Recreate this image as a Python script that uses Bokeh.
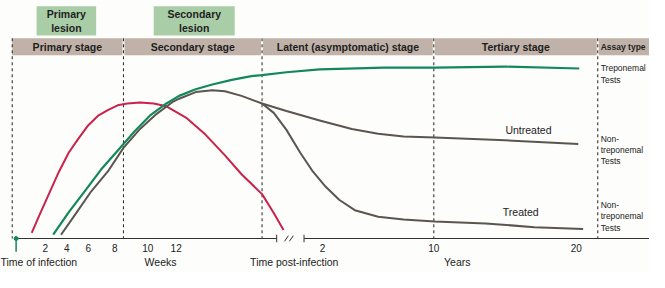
from bokeh.plotting import figure
from bokeh.models import Range1d
from bokeh.core.properties import value
from bokeh.embed import file_html
from bokeh.resources import INLINE

# ---- schematic coordinates: x = position along the time axis, y = level above baseline ----
stage_names = ["Primary stage", "Secondary stage", "Latent (asymptomatic) stage", "Tertiary stage"]
stage_left = [12, 127, 269, 445]
stage_right = [125, 267, 443, 611]
stage_bounds = [12, 126, 268, 444, 612]

lesion_names = [["Primary", "lesion"], ["Secondary", "lesion"]]
lesion_left = [37, 157]
lesion_right = [98, 240]

week_ticks = ["2", "4", "6", "8", "10", "12"]
week_tick_x = [46, 68, 90, 117, 151, 180]
year_ticks = ["2", "10", "20"]
year_tick_x = [330, 444, 590]

# Red curve (early response)
red_x = [32, 40, 50, 60, 70, 80, 90, 100, 110, 120, 130, 143, 157, 170, 190, 210, 230, 247, 268, 280, 290]
red_y = [6, 25, 48, 71, 91, 106, 120, 130, 136, 141, 143, 144, 143, 140, 128, 110, 88, 68, 47, 27, 9]

# Treponemal tests (green)
green_x = [54, 70, 87, 103, 120, 137, 153, 170, 183, 200, 217, 237, 257, 268, 293, 327, 393, 445, 517, 593]
green_y = [4, 28, 51, 73, 93, 113, 130, 143, 151, 158, 163, 168, 172, 173, 176, 179, 181, 181, 182, 180]

# Non-treponemal tests, common part (dark grey)
nt_x = [62, 77, 93, 110, 126, 143, 160, 177, 183, 200, 217, 230, 247, 260, 268]
nt_y = [4, 26, 50, 71, 96, 116, 132, 145, 148, 155, 157, 156, 151, 146, 143]

# Untreated branch
untr_x = [268, 293, 327, 360, 387, 413, 445, 517, 592]
untr_y = [143, 135, 125, 116, 111, 108, 107, 104, 100]

# Treated branch
tr_x = [268, 280, 293, 307, 320, 333, 347, 363, 387, 413, 445, 497, 547, 597]
tr_y = [143, 133, 115, 91, 71, 55, 41, 30, 23, 20, 18, 16, 12, 10]

red = "#c9234d"
green = "#12885c"
grey = "#5a554e"
font = "Liberation Sans"

p = figure(width=649, height=272, output_backend="svg", toolbar_location=None,
           x_range=Range1d(0, 665), y_range=Range1d(-36, 252),
           min_border=0, background_fill_color="#fdfdfb", border_fill_color="#fdfdfb")
p.axis.visible = False
p.grid.visible = False
p.outline_line_color = None

# lesion boxes
p.quad(left=lesion_left, right=lesion_right, top=[246, 246], bottom=[215, 215],
       fill_color="#a9cda6", line_color=None)
for i, (l, r) in enumerate(zip(lesion_left, lesion_right)):
    cx = (l + r) / 2
    p.text(x=[cx, cx], y=[238, 223], text=lesion_names[i], text_align="center",
           text_baseline="middle", text_font=value(font), text_font_style="bold",
           text_font_size="10.5px", text_color="#1e1e1e")

# stage bar
p.quad(left=stage_left + [613], right=stage_right + [665], top=[212] * 5, bottom=[194] * 5,
       fill_color="#c0b2a8", line_color=None)
p.text(x=[(l + r) / 2 for l, r in zip(stage_left, stage_right)], y=[203] * 4, text=stage_names,
       text_align="center", text_baseline="middle", text_font=value(font),
       text_font_style="bold", text_font_size="10.5px", text_color="#1e1e1e")
p.text(x=[615], y=[203], text=["Assay type"], text_align="left", text_baseline="middle",
       text_font=value(font), text_font_style="bold", text_font_size="8.5px", text_color="#1e1e1e")

# dashed stage boundaries
p.segment(x0=stage_bounds, x1=stage_bounds, y0=[212] * 5, y1=[0] * 5,
          line_color="#222222", line_dash="3 3", line_width=1)

# curves
p.line(red_x, red_y, line_color=red, line_width=2, line_join="round")
p.line(nt_x, nt_y, line_color=grey, line_width=2, line_join="round")
p.line(untr_x, untr_y, line_color=grey, line_width=2, line_join="round")
p.line(tr_x, tr_y, line_color=grey, line_width=2, line_join="round")
p.line(green_x, green_y, line_color=green, line_width=2.2, line_join="round")

# time axis with break
p.segment(x0=[16, 311], x1=[283, 665], y0=[0, 0], y1=[0, 0], line_color="#333333", line_width=1)
p.segment(x0=[283, 311], x1=[283, 311], y0=[-4, -4], y1=[4, 4], line_color="#333333", line_width=1)
p.segment(x0=[291, 296], x1=[295, 300], y0=[-3, -3], y1=[3, 3], line_color="#333333", line_width=1)
p.segment(x0=[16], x1=[16], y0=[0], y1=[-14], line_color=green, line_width=1.5)
p.scatter(x=[16], y=[0], size=4, color=green)

p.text(x=week_tick_x + year_tick_x, y=[-10] * 9, text=week_ticks + year_ticks,
       text_align="center", text_baseline="middle", text_font=value(font),
       text_font_size="10px", text_color="#222222")
p.text(x=[0], y=[-25], text=["Time of infection"], text_align="left", text_baseline="middle",
       text_font=value(font), text_font_size="10.5px", text_color="#222222")
p.text(x=[164, 301, 468], y=[-25] * 3, text=["Weeks", "Time post-infection", "Years"],
       text_align="center", text_baseline="middle", text_font=value(font),
       text_font_size="10.5px", text_color="#222222")

# curve labels
p.text(x=[541, 533], y=[115, 28], text=["Untreated", "Treated"], text_align="center",
       text_baseline="middle", text_font=value(font), text_font_size="10.5px", text_color="#222222")

# assay type labels
assay_lines = ["Treponemal", "Tests", "Non-", "treponemal", "Tests", "Non-", "treponemal", "Tests"]
assay_y = [181, 168, 105, 94, 82, 35, 24, 11]
p.text(x=[615] * 8, y=assay_y, text=assay_lines, text_align="left", text_baseline="middle",
       text_font=value(font), text_font_size="8.5px", text_color="#222222")

open("out.html", "w").write(file_html(p, INLINE))
